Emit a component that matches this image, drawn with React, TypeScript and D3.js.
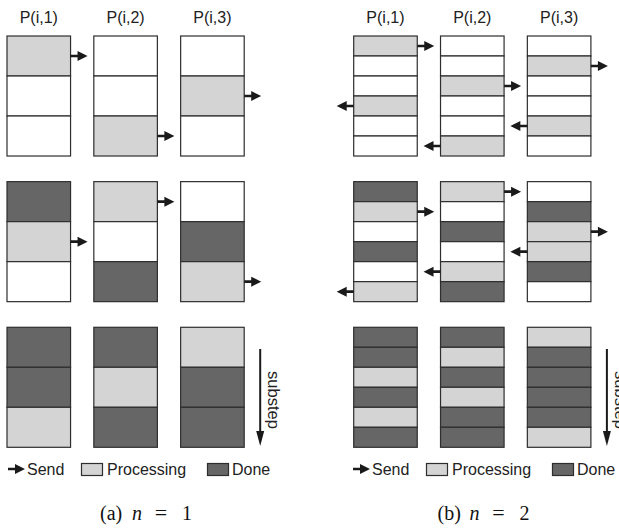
import * as d3 from 'd3';

// cell states per column, per stage (top -> bottom). W = waiting, P = processing, D = done
const columns = ['P(i,1)', 'P(i,2)', 'P(i,3)'];
const stages = ['s1', 's2', 's3'];

const cellsN1 = [
  ['PWW', 'WWP', 'WPW'],
  ['DPW', 'PWD', 'WDP'],
  ['DDP', 'DPD', 'PDD'],
];
// R = send right, L = send left, . = nothing
const sendsN1 = [
  ['R..', '..R', '.R.'],
  ['.R.', 'R..', '..R'],
  ['...', '...', '...'],
];

const cellsN2 = [
  ['PWWPWW', 'WWPWWP', 'WPWWPW'],
  ['DPWDWP', 'PWDWPD', 'WDPPDW'],
  ['DDPDPD', 'DPDPDD', 'PDDDDP'],
];
const sendsN2 = [
  ['R..L..', '..R..L', '.R..L.'],
  ['.R...L', 'R...L.', '..RL..'],
  ['......', '......', '......'],
];

const legendItems = ['Send', 'Processing', 'Done'];
const captions = [['(a)', 'n', '=', '1'], ['(b)', 'n', '=', '2']];

const fill = { W: '#ffffff', P: '#d4d4d4', D: '#666666' } as Record<string, string>;
const stroke = '#2e2e2e';
const font = '"Liberation Sans", Arial, sans-serif';
const serif = '"Liberation Serif", "DejaVu Serif", serif';

const arrowPath = (x: number, y: number, dir: number) => {
  // horizontal arrow starting at x going in dir (+1 right, -1 left)
  const len = 17, head = 10, hw = 5, lw = 1.3;
  const p = d3.path();
  p.moveTo(x, y - lw);
  p.lineTo(x + dir * (len - head), y - lw);
  p.lineTo(x + dir * (len - head), y - hw);
  p.lineTo(x + dir * len, y);
  p.lineTo(x + dir * (len - head), y + hw);
  p.lineTo(x + dir * (len - head), y + lw);
  p.lineTo(x, y + lw);
  p.closePath();
  return p.toString();
};

function Panel({ x0, cells, sends, caption, legendX, captionX }: any) {
  const x = d3.scaleBand().domain(columns).range([x0, x0 + 237.2]).paddingInner(0.268);
  const y = d3.scaleBand().domain(stages).range([36, 447.3]).paddingInner(0.176);
  const n = cells[0][0].length;
  const cy = d3.scaleBand().domain(d3.range(n).map(String)).range([0, y.bandwidth()]);
  const right = (x.range()[1] as number);
  const legendY = 469;

  return (
    <g>
      {columns.map((c) => (
        <text key={c} x={(x(c) as number) + x.bandwidth() / 2} y={23} textAnchor="middle"
          fontFamily={font} fontSize={16} fill="#222">{c}</text>
      ))}
      {stages.map((s, si) => (
        <g key={s} transform={`translate(0,${y(s)})`}>
          {columns.map((c, ci) => (
            <g key={c}>
              {cells[si][ci].split('').map((st: string, k: number) => (
                <rect key={k} x={x(c)} y={cy(String(k))} width={x.bandwidth()} height={cy.bandwidth()}
                  fill={fill[st]} stroke={stroke} strokeWidth={1.2} />
              ))}
              {sends[si][ci].split('').map((d: string, k: number) => d === '.' ? null : (
                <path key={'a' + k}
                  d={arrowPath(d === 'R' ? (x(c) as number) + x.bandwidth() : (x(c) as number), (cy(String(k)) as number) + cy.bandwidth() / 2, d === 'R' ? 1 : -1)}
                  fill="#1a1a1a" />
              ))}
            </g>
          ))}
        </g>
      ))}
      {/* substep arrow */}
      <g transform={`translate(${right + 16},0)`}>
        <line x1={0} x2={0} y1={349} y2={432} stroke="#1a1a1a" strokeWidth={2} />
        <path d="M-4,431L4,431L0,446Z" fill="#1a1a1a" />
        <text transform="translate(8,400) rotate(90)" textAnchor="middle" fontFamily={font}
          fontSize={16.5} fill="#222">substep</text>
      </g>
      {/* legend */}
      <g transform={`translate(${legendX},0)`}>
        <path d={arrowPath(0, legendY, 1)} fill="#1a1a1a" />
        <text x={19} y={475} fontFamily={font} fontSize={16} fill="#222">{legendItems[0]}</text>
        <rect x={73.5} y={463.5} width={21} height={12} fill={fill.P} stroke={stroke} strokeWidth={1.2} />
        <text x={99} y={475} fontFamily={font} fontSize={16} fill="#222">{legendItems[1]}</text>
        <rect x={199.5} y={463.5} width={21} height={12} fill={fill.D} stroke={stroke} strokeWidth={1.2} />
        <text x={224} y={475} fontFamily={font} fontSize={16} fill="#222">{legendItems[2]}</text>
      </g>
      {/* caption */}
      <g transform={`translate(${captionX},520)`} fontFamily={serif} fontSize={20} fill="#111">
        <text x={-46}>{caption[0]}</text>
        <text x={-14} fontStyle="italic">{caption[1]}</text>
        <text x={15} textAnchor="middle" fontSize={22}>{caption[2]}</text>
        <text x={36}>{caption[3]}</text>
      </g>
    </g>
  );
}

export default function App() {
  return (
    <svg width={619} height={529} style={{ position: 'absolute', left: 0, top: 0, background: '#fff' }}>
      <Panel x0={7} cells={cellsN1} sends={sendsN1} caption={captions[0]} legendX={8} captionX={146} />
      <Panel x0={353.7} cells={cellsN2} sends={sendsN2} caption={captions[1]} legendX={353} captionX={483.5} />
    </svg>
  );
}
